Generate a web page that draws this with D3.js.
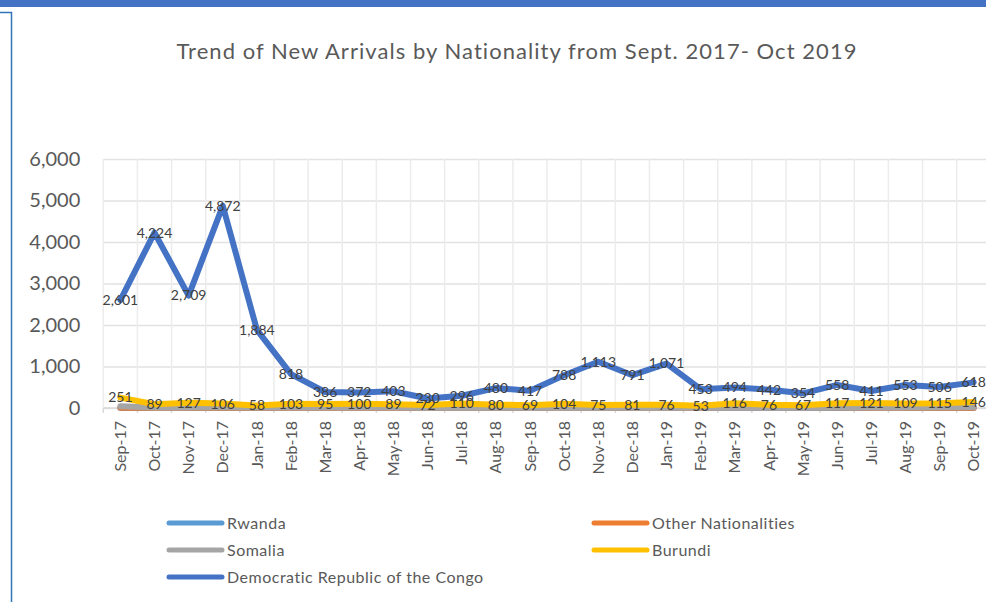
<!DOCTYPE html>
<html><head><meta charset="utf-8">
<script src="https://cdn.jsdelivr.net/npm/d3@7"></script>
<style>
html,body{margin:0;padding:0;background:#fff;}
svg{display:block;font-family:Lato,"Open Sans",sans-serif;}
</style></head>
<body>
<svg id="chart" width="986" height="602"></svg>
<script>
const categories = ["Sep-17","Oct-17","Nov-17","Dec-17","Jan-18","Feb-18","Mar-18","Apr-18","May-18","Jun-18","Jul-18","Aug-18","Sep-18","Oct-18","Nov-18","Dec-18","Jan-19","Feb-19","Mar-19","Apr-19","May-19","Jun-19","Jul-19","Aug-19","Sep-19","Oct-19"];
const rwanda = [0,0,0,0,0,0,0,0,0,0,0,0,0,0,0,0,0,0,0,0,0,0,0,0,0,0];
const otherNationalities = [5,5,5,5,5,5,5,5,5,8,8,5,5,5,5,5,5,5,10,12,15,10,8,8,8,8];
const somalia = [40,12,15,18,12,10,10,10,10,8,8,8,8,8,8,8,8,8,8,8,8,10,12,15,20,25];
const burundi = [251,89,127,106,58,103,95,100,89,72,110,80,69,104,75,81,76,53,116,76,67,117,121,109,115,146];
const drc = [2601,4224,2709,4872,1884,818,386,372,403,230,296,480,417,788,1113,791,1071,453,494,442,354,558,411,553,506,618];
const yTicks = [0,1000,2000,3000,4000,5000,6000];
const seriesNames = ["Rwanda","Other Nationalities","Somalia","Burundi","Democratic Republic of the Congo"];
const seriesColors = ["#5B9BD5","#ED7D31","#A5A5A5","#FFC000","#4472C4"];
const seriesValues = [rwanda, otherNationalities, somalia, burundi, drc];
const labelled = [false,false,false,true,true];
const title = "Trend of New Arrivals by Nationality from Sept. 2017- Oct 2019";

const svg = d3.select("#chart");

// top band and left frame
svg.append("rect").attr("x",0).attr("y",0).attr("width",986).attr("height",7).attr("fill","#4472C4");
svg.append("path").attr("d","M0,12.5 H11.5 V602").attr("fill","none").attr("stroke","#2E75B6").attr("stroke-width",1.5);

const x = d3.scaleBand().domain(categories).range([103.3, 990.8]);
const y = d3.scaleLinear().domain([0,6000]).range([408,159]);
const cx = c => x(c) + x.bandwidth()/2;

// title
svg.append("text").attr("x",517).attr("y",59).attr("text-anchor","middle")
  .attr("font-size",22).attr("letter-spacing","1.05px").attr("fill","#595959").text(title);

// horizontal gridlines
const gy = svg.append("g").attr("transform","translate(103.3,0)")
  .call(d3.axisLeft(y).tickValues(yTicks).tickSize(-(986-103.3)).tickFormat(""));
gy.select(".domain").remove();
gy.selectAll("line").attr("stroke","#e2e2e2").attr("stroke-width",1.5);

// vertical gridlines at band boundaries
svg.append("g").selectAll("line").data(categories).join("line")
  .attr("x1",d=>x(d)).attr("x2",d=>x(d)).attr("y1",y(6000)).attr("y2",y(0))
  .attr("stroke","#ececec").attr("stroke-width",1.5);

// y axis labels
const ya = svg.append("g").attr("transform","translate(103.3,0)")
  .call(d3.axisLeft(y).tickValues(yTicks).tickSize(0).tickPadding(23).tickFormat(d3.format(",")));
ya.select(".domain").remove();
ya.selectAll("text").attr("font-size",20).attr("fill","#595959").attr("font-family","Lato,'Open Sans',sans-serif");

// x axis line and ticks
svg.append("line").attr("x1",103.3).attr("x2",986).attr("y1",y(0)).attr("y2",y(0)).attr("stroke","#d9d9d9").attr("stroke-width",1.5);
svg.append("g").selectAll("line").data(categories).join("line")
  .attr("x1",d=>x(d)).attr("x2",d=>x(d)).attr("y1",y(0)).attr("y2",y(0)+5)
  .attr("stroke","#d9d9d9").attr("stroke-width",1.5);

// x labels
const xa = svg.append("g").attr("transform",`translate(0,${y(0)})`)
  .call(d3.axisBottom(x).tickSize(0).tickPadding(0));
xa.select(".domain").remove();
xa.selectAll("text")
  .attr("font-size",16).attr("fill","#595959").attr("font-family","Lato,'Open Sans',sans-serif")
  .attr("text-anchor","end").attr("x",0).attr("y",0).attr("dy","0.35em")
  .attr("transform","translate(0,13) rotate(-90)");

// lines
const line = d3.line().x((d,i)=>cx(categories[i])).y(d=>y(d));
seriesValues.forEach((vals,k)=>{
  svg.append("path").datum(vals).attr("d",line).attr("fill","none")
    .attr("stroke",seriesColors[k]).attr("stroke-width",6)
    .attr("stroke-linejoin","round").attr("stroke-linecap","round");
});

// data labels
seriesValues.forEach((vals,k)=>{
  if(!labelled[k]) return;
  svg.append("g").selectAll("text").data(vals).join("text")
    .attr("x",(d,i)=>cx(categories[i])).attr("y",d=>y(d)).attr("dy","0.35em")
    .attr("text-anchor","middle").attr("font-size",14).attr("fill","#404040")
    .text(d=>d3.format(",")(d));
});

// legend
const legendPos = [[167,523],[592,523],[167,550],[592,550],[167,577]];
seriesNames.forEach((n,k)=>{
  const [lx,ly] = legendPos[k];
  svg.append("line").attr("x1",lx+2).attr("x2",lx+55).attr("y1",ly).attr("y2",ly)
    .attr("stroke",seriesColors[k]).attr("stroke-width",5).attr("stroke-linecap","round");
  svg.append("text").attr("x",lx+60).attr("y",ly).attr("dy","0.35em")
    .attr("font-size",16).attr("letter-spacing","0.5px").attr("fill","#595959").text(n);
});
</script>
</body></html>
